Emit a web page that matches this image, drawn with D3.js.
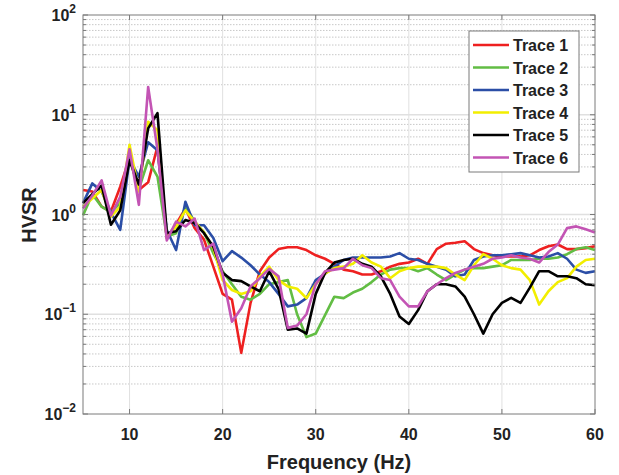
<!DOCTYPE html>
<html><head><meta charset="utf-8">
<script src="https://cdn.jsdelivr.net/npm/d3@7"></script>
<style>
html,body{margin:0;padding:0;background:#fff;}
svg{display:block;font-family:"Liberation Sans",Arial,sans-serif;font-weight:bold;}
</style></head>
<body><svg id="c" width="619" height="475"></svg>
<script>
const freq = [5,6,7,8,9,10,11,12,13,14,15,16,17,18,19,20,21,22,23,24,25,26,27,28,29,30,31,32,33,34,35,36,37,38,39,40,41,42,43,44,45,46,47,48,49,50,51,52,53,54,55,56,57,58,59,60];
const trace1 = [1.76,1.7,1.2,1.07,1.9,3.7,1.76,2.1,4.8,0.58,0.8,1.15,0.73,0.56,0.3,0.16,0.14,0.041,0.13,0.27,0.37,0.45,0.47,0.47,0.44,0.39,0.36,0.32,0.28,0.27,0.25,0.25,0.27,0.30,0.32,0.33,0.36,0.32,0.45,0.51,0.52,0.54,0.45,0.41,0.39,0.38,0.38,0.38,0.39,0.44,0.48,0.50,0.45,0.45,0.46,0.48];
const trace2 = [0.98,1.6,1.2,1.05,1.3,3.6,1.8,3.5,2.4,0.6,0.65,1.2,0.85,0.66,0.41,0.27,0.2,0.15,0.14,0.16,0.2,0.21,0.22,0.10,0.059,0.064,0.098,0.15,0.145,0.165,0.18,0.21,0.25,0.28,0.29,0.29,0.27,0.29,0.25,0.22,0.25,0.28,0.29,0.29,0.30,0.31,0.35,0.35,0.35,0.36,0.36,0.37,0.40,0.45,0.47,0.44];
const trace3 = [1.3,2.05,1.7,1.05,0.7,3.6,2.4,5.3,4.4,0.7,0.44,1.34,0.78,0.78,0.58,0.34,0.43,0.37,0.31,0.25,0.21,0.16,0.12,0.125,0.145,0.22,0.255,0.30,0.35,0.37,0.37,0.37,0.37,0.38,0.41,0.36,0.35,0.32,0.30,0.28,0.24,0.25,0.35,0.38,0.39,0.39,0.40,0.41,0.39,0.37,0.38,0.41,0.36,0.28,0.26,0.27];
const trace4 = [1.2,1.45,1.76,0.95,1.2,5.0,1.7,8.5,7.0,0.6,0.75,1.1,0.85,0.66,0.46,0.22,0.175,0.16,0.17,0.24,0.30,0.22,0.19,0.18,0.145,0.20,0.255,0.29,0.30,0.32,0.39,0.33,0.30,0.23,0.27,0.29,0.30,0.30,0.30,0.29,0.25,0.22,0.31,0.40,0.36,0.31,0.29,0.28,0.22,0.125,0.17,0.21,0.23,0.30,0.35,0.36];
const trace5 = [1.3,1.6,1.95,0.79,1.1,3.5,2.0,7.3,10.4,0.65,0.68,0.88,0.82,0.65,0.475,0.26,0.22,0.215,0.19,0.17,0.27,0.18,0.07,0.072,0.064,0.16,0.26,0.33,0.35,0.36,0.32,0.30,0.24,0.16,0.095,0.08,0.11,0.17,0.20,0.20,0.19,0.15,0.10,0.064,0.10,0.13,0.146,0.13,0.185,0.27,0.27,0.24,0.24,0.23,0.20,0.195];
const trace6 = [1.15,1.55,2.2,0.98,1.5,4.5,1.25,19,4.5,0.55,0.85,0.76,0.91,0.44,0.51,0.25,0.084,0.115,0.19,0.23,0.285,0.24,0.073,0.077,0.10,0.20,0.27,0.28,0.29,0.36,0.31,0.29,0.23,0.22,0.15,0.12,0.12,0.17,0.20,0.23,0.26,0.28,0.30,0.32,0.36,0.37,0.39,0.37,0.36,0.33,0.42,0.50,0.73,0.76,0.71,0.66];
const seriesNames = ["Trace 1","Trace 2","Trace 3","Trace 4","Trace 5","Trace 6"];
const seriesColors = ["#ee2020","#62bd44","#2b4ea6","#f2ee00","#000000","#c354b4"];
const xTicks = [10,20,30,40,50,60];
const yTickExps = ["2","1","0","\u22121","\u22122"];
const yTickVals = [100,10,1,0.1,0.01];

const series = [trace1,trace2,trace3,trace4,trace5,trace6];
const svg = d3.select("#c");
const L=83,R=595,T=15,B=414;
const x = d3.scaleLinear().domain([5,60]).range([L,R]);
const y = d3.scaleLog().domain([0.01,100]).range([B,T]);

// grid
const g = svg.append("g");
const minorVals = [];
[0.01,0.1,1,10].forEach(d=>{for(let k=2;k<=9;k++) minorVals.push(d*k);});
g.selectAll("line.mn").data(minorVals).enter().append("line")
  .attr("x1",L).attr("x2",R).attr("y1",d=>y(d)).attr("y2",d=>y(d))
  .attr("stroke","#c8c8c8").attr("stroke-width",1).attr("stroke-dasharray","1.5,1.5");
g.selectAll("line.mj").data([0.1,1,10]).enter().append("line")
  .attr("x1",L).attr("x2",R).attr("y1",d=>y(d)).attr("y2",d=>y(d))
  .attr("stroke","#e0e0e0").attr("stroke-width",1.5);
g.selectAll("line.vx").data(xTicks.slice(0,5)).enter().append("line")
  .attr("y1",T).attr("y2",B).attr("x1",d=>x(d)).attr("x2",d=>x(d))
  .attr("stroke","#e0e0e0").attr("stroke-width",1);

// lines
const line = d3.line().x((d,i)=>x(freq[i])).y(d=>y(d));
series.forEach((s,i)=>{
  svg.append("path").datum(s).attr("d",line).attr("fill","none")
    .attr("stroke",seriesColors[i]).attr("stroke-width",2.6).attr("stroke-linejoin","round");
});

// axes box
const ax = svg.append("g").attr("stroke","#7a7a7a").attr("stroke-width",1);
ax.append("rect").attr("x",L).attr("y",T).attr("width",R-L).attr("height",B-T).attr("fill","none");
// x ticks
xTicks.forEach(t=>{
  ax.append("line").attr("x1",x(t)).attr("x2",x(t)).attr("y1",B).attr("y2",B-5);
  ax.append("line").attr("x1",x(t)).attr("x2",x(t)).attr("y1",T).attr("y2",T+5);
});
// y ticks
yTickVals.forEach(t=>{
  ax.append("line").attr("x1",L).attr("x2",L+5).attr("y1",y(t)).attr("y2",y(t));
  ax.append("line").attr("x1",R).attr("x2",R-5).attr("y1",y(t)).attr("y2",y(t));
});
minorVals.forEach(t=>{
  ax.append("line").attr("x1",L).attr("x2",L+3).attr("y1",y(t)).attr("y2",y(t));
  ax.append("line").attr("x1",R).attr("x2",R-3).attr("y1",y(t)).attr("y2",y(t));
});

// tick labels
svg.selectAll("text.xt").data(xTicks).enter().append("text")
  .attr("x",d=>x(d)).attr("y",440).attr("text-anchor","middle")
  .attr("font-size",16).attr("fill","#222").text(d=>d);
yTickVals.forEach((v,i)=>{
  const t = svg.append("text").attr("x",L-7).attr("y",y(v)+6).attr("text-anchor","end")
    .attr("font-size",16).attr("fill","#222");
  t.append("tspan").text("10");
  t.append("tspan").attr("dy",-8).attr("font-size",12).text(yTickExps[i]);
});
// axis labels
svg.append("text").attr("x",(L+R)/2).attr("y",469).attr("text-anchor","middle")
  .attr("font-size",20).attr("fill","#222").text("Frequency (Hz)");
svg.append("text").attr("transform","translate(36,215) rotate(-90)").attr("text-anchor","middle")
  .attr("font-size",20).attr("fill","#222").text("HVSR");

// legend
const lg = svg.append("g");
lg.append("rect").attr("x",469).attr("y",31).attr("width",110).attr("height",141)
  .attr("fill","#fff").attr("stroke","#7a7a7a").attr("stroke-width",1);
seriesNames.forEach((n,i)=>{
  const yy = 45 + i*22.5;
  lg.append("line").attr("x1",473).attr("x2",509).attr("y1",yy).attr("y2",yy)
    .attr("stroke",seriesColors[i]).attr("stroke-width",2.6);
  lg.append("text").attr("x",513).attr("y",yy+6).attr("font-size",16).attr("fill","#222").text(n);
});
</script></body></html>
